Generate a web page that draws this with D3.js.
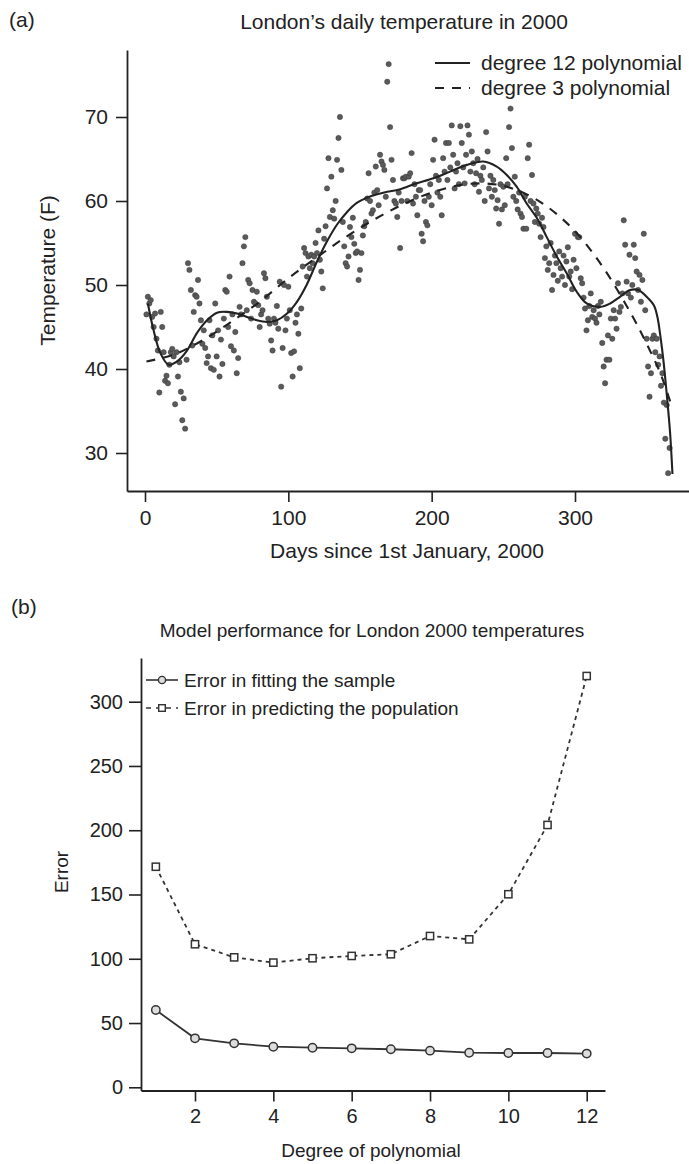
<!DOCTYPE html>
<html><head><meta charset="utf-8">
<script src="https://cdn.jsdelivr.net/npm/d3@7/dist/d3.min.js"></script>
<style>
html,body{margin:0;padding:0;background:#fff;}
svg{display:block;font-family:"Liberation Sans",Arial,Helvetica,sans-serif;}
</style></head><body>
<svg id="chart" width="689" height="1164"></svg>
<script>
// ---------- Panel (a) data ----------
const dayNumbers = d3.range(1, 367);
const temps = [
46.5,48.6,47.8,48.2,46.2,45.0,46.6,43.6,42.2,37.2,
46.8,45.0,42.0,38.6,39.2,38.3,40.5,42.0,42.4,41.5,
35.8,42.0,39.1,40.8,37.3,33.9,36.5,32.9,41.1,52.6,
51.8,49.4,42.8,46.8,48.8,48.6,50.6,47.8,45.8,43.0,
44.6,42.5,40.7,41.5,45.8,40.1,44.0,39.9,47.8,41.5,
44.6,39.1,43.5,40.6,46.0,49.4,49.2,45.0,51.0,42.7,
46.5,42.2,44.4,39.5,41.3,47.4,46.5,52.6,54.6,55.7,
47.0,50.6,50.2,46.0,49.4,48.0,47.8,49.2,47.6,45.0,
46.5,47.0,51.4,50.8,48.6,46.0,45.4,43.4,42.2,46.0,
45.5,47.5,44.8,50.4,37.9,42.5,50.0,44.6,46.0,49.8,
47.0,41.9,39.1,42.1,45.5,46.5,44.2,40.1,47.2,52.2,
54.4,53.8,51.0,53.4,52.0,53.6,52.6,53.4,55.0,53.8,
56.5,53.0,51.6,49.6,55.5,57.0,61.5,65.1,58.1,62.9,
58.9,57.9,60.0,64.9,67.5,70.0,63.7,57.5,54.6,52.6,
52.2,53.4,56.9,55.7,58.0,54.9,53.8,54.0,50.6,51.8,
53.8,55.9,57.0,57.5,60.3,63.3,60.0,58.5,58.9,61.0,
64.1,61.3,59.5,65.5,64.7,64.3,63.7,60.5,74.2,76.3,
68.8,64.9,62.5,60.0,59.7,58.1,61.0,54.4,60.0,62.7,
62.7,62.9,60.0,62.9,63.3,65.7,59.7,62.0,60.5,58.3,
61.3,61.3,56.1,55.2,60.0,57.5,57.1,60.5,62.0,59.5,
64.9,67.3,63.0,61.0,62.5,60.5,58.3,65.1,63.5,66.9,
62.5,66.9,64.0,69.0,65.5,61.5,63.5,64.5,62.0,68.9,
66.9,64.0,62.1,65.5,69.0,67.9,63.5,65.9,64.5,62.0,
63.3,65.0,61.1,63.0,62.5,64.0,60.0,68.2,65.9,61.5,
63.0,60.5,62.5,61.3,59.1,60.1,57.3,62.0,59.0,61.7,
59.5,65.1,62.0,68.8,71.0,66.3,60.5,62.9,60.0,59.0,
61.0,58.5,58.1,56.7,60.5,56.7,65.1,66.7,60.0,63.1,
59.7,57.5,59.1,58.5,57.3,55.7,58.0,56.9,53.2,54.6,
51.8,52.6,55.0,49.4,51.2,53.5,52.6,50.5,54.0,52.0,
51.0,53.5,50.0,52.8,54.5,51.0,51.6,49.5,53.0,56.1,
52.0,55.7,55.7,50.8,50.2,48.5,47.2,44.6,45.8,47.5,
49.0,46.2,47.0,46.0,45.5,47.5,46.5,48.0,43.1,40.3,
38.3,41.1,44.0,41.1,46.0,43.6,47.0,46.0,44.8,50.2,
46.8,47.4,49.0,57.7,54.8,50.4,49.0,53.6,48.5,50.0,
54.8,53.2,51.6,49.4,51.2,48.0,50.6,56.1,47.0,43.6,
40.3,36.7,39.5,43.6,44.0,42.0,43.6,40.5,41.5,38.0,
39.5,36.0,31.7,35.7,27.6,30.6
];
const deg12Days  = [2,6,10.7,16.5,22.3,29.3,36.3,43.3,50.2,57.2,64.2,71.2,78.1,85.1,92.1,99.1,106,113,120,127,134,141,148,155,162,169,176,183,189.6,201.2,212.8,224.5,236.1,245.4,252.4,259.3,266.3,273.3,280.3,287.3,294.2,301.2,308.2,317.5,324.5,331.4,338.4,344.2,350,355,357.5,359.5,361.7,364,366.3,368];
const deg12Temps = [47.8,44.6,41.9,40.5,40.9,42.2,44.3,45.8,46.7,46.8,46.6,46.2,45.8,45.6,45.8,46.6,48.0,50.1,52.8,55.2,57.2,58.7,59.8,60.4,60.8,61.1,61.3,61.7,62.1,62.7,63.5,64.3,64.7,64.1,63.1,61.7,59.7,58.0,55.7,53.4,51.4,49.2,47.8,47.4,47.8,48.6,49.4,49.4,48.6,47.6,46.2,44.0,41.0,37.0,32.5,27.5];
const deg3Days   = [1,20,40,60,80,100,120,140,160,180,200,220,235,250,265,280,300,320,340,350,360,367];
const deg3Temps  = [40.9,41.7,43.4,45.6,48.0,50.8,53.3,55.7,57.8,59.6,61.0,61.9,62.1,61.8,60.9,59.4,56.4,52.0,46.3,43.0,39.3,35.8];
const tempTicks  = [30,40,50,60,70];
const dayTicks   = [0,100,200,300];
const legendA    = ["degree 12 polynomial","degree 3 polynomial"];

// ---------- Panel (b) data ----------
const degrees     = [1,2,3,4,5,6,7,8,9,10,11,12];
const sampleError = [60.1,38.1,34.2,31.6,30.8,30.3,29.6,28.5,26.9,26.7,26.7,26.2];
const popError    = [171.6,111.3,101.1,97.0,100.4,102.2,103.5,117.7,115.1,150.2,204.1,320.0];
const errorTicks  = [0,50,100,150,200,250,300];
const degreeTicks = [2,4,6,8,10,12];
const legendB     = ["Error in fitting the sample","Error in predicting the population"];

const INK = "#222";
const svg = d3.select("#chart");

function styleAxis(g, fs){
  g.attr("font-size", fs).attr("font-family", null);
  g.selectAll("path.domain").attr("stroke", INK).attr("stroke-width", 1.8);
  g.selectAll(".tick line").attr("stroke", INK).attr("stroke-width", 1.6);
  g.selectAll(".tick text").attr("fill", INK);
}

// ================= Panel (a) =================
const A = {left:127, right:689, top:50, bottom:491};
const xT0 = d3.scaleLinear().domain([0,300]).range([145,575]);
const yT0 = d3.scaleLinear().domain([30,70]).range([453,117]);
const xT = d3.scaleLinear().domain([xT0.invert(A.left), xT0.invert(A.right)]).range([A.left, A.right]);
const yT = d3.scaleLinear().domain([yT0.invert(A.bottom), yT0.invert(A.top)]).range([A.bottom, A.top]);
const fsA = 21;

svg.append("text").attr("x",9).attr("y",27).attr("font-size",fsA).attr("fill",INK).text("(a)");
svg.append("text").attr("x",404).attr("y",29).attr("text-anchor","middle").attr("font-size",fsA).attr("fill",INK)
  .text("London\u2019s daily temperature in 2000");

// points
svg.append("g").selectAll("circle").data(temps).join("circle")
  .attr("cx",(d,i)=>xT(dayNumbers[i])).attr("cy",d=>yT(d)).attr("r",2.7)
  .attr("fill","#5a5a5a").attr("stroke","#333").attr("stroke-width",0.4);

const lineA = d3.line().x(d=>xT(d[0])).y(d=>yT(d[1])).curve(d3.curveCatmullRom.alpha(0.5));
svg.append("path").datum(deg12Days.map((d,i)=>[d,deg12Temps[i]])).attr("d",lineA)
  .attr("fill","none").attr("stroke",INK).attr("stroke-width",2.1);
svg.append("path").datum(deg3Days.map((d,i)=>[d,deg3Temps[i]])).attr("d",lineA)
  .attr("fill","none").attr("stroke",INK).attr("stroke-width",2.1).attr("stroke-dasharray","9,8");

// axes
const gyA = svg.append("g").attr("transform",`translate(${A.left},0)`)
  .call(d3.axisLeft(yT).tickValues(tempTicks).tickSize(11).tickSizeOuter(0).tickPadding(8));
styleAxis(gyA, fsA);
const gxA = svg.append("g").attr("transform",`translate(0,${A.bottom})`)
  .call(d3.axisBottom(xT).tickValues(dayTicks).tickSize(11).tickSizeOuter(0).tickPadding(8));
styleAxis(gxA, fsA);

svg.append("text").attr("x",407).attr("y",558).attr("text-anchor","middle").attr("font-size",fsA).attr("fill",INK)
  .text("Days since 1st January, 2000");
svg.append("text").attr("transform",`translate(55,${(A.top+A.bottom)/2}) rotate(-90)`).attr("text-anchor","middle")
  .attr("font-size",fsA).attr("fill",INK).text("Temperature (F)");

// legend (a)
const legA = svg.append("g");
[0,1].forEach(i=>{
  const y = 63 + i*25;
  legA.append("line").attr("x1",435).attr("x2",470).attr("y1",y).attr("y2",y)
    .attr("stroke",INK).attr("stroke-width",2.1).attr("stroke-dasharray", i? "9,8" : null);
  legA.append("text").attr("x",481).attr("y",y).attr("dy","0.35em").attr("font-size",fsA).attr("fill",INK).text(legendA[i]);
});

// ================= Panel (b) =================
const B = {left:141, right:605, top:658, bottom:1090.5};
const xB0 = d3.scaleLinear().domain([2,12]).range([195,586.7]);
const yB0 = d3.scaleLinear().domain([0,300]).range([1087.3,701.7]);
const xB = d3.scaleLinear().domain([xB0.invert(B.left), xB0.invert(B.right)]).range([B.left,B.right]);
const yB = d3.scaleLinear().domain([yB0.invert(B.bottom), yB0.invert(B.top)]).range([B.bottom,B.top]);
const fsB = 19;

svg.append("text").attr("x",11).attr("y",614).attr("font-size",fsA).attr("fill",INK).text("(b)");
svg.append("text").attr("x",372).attr("y",637).attr("text-anchor","middle").attr("font-size",fsB).attr("fill",INK)
  .text("Model performance for London 2000 temperatures");

const lineB = d3.line().x((d,i)=>xB(degrees[i])).y(d=>yB(d));
svg.append("path").datum(popError).attr("d",lineB).attr("fill","none").attr("stroke","#333")
  .attr("stroke-width",1.8).attr("stroke-dasharray","4,4");
svg.append("path").datum(sampleError).attr("d",lineB).attr("fill","none").attr("stroke","#333")
  .attr("stroke-width",1.8);
svg.append("g").selectAll("rect").data(popError).join("rect")
  .attr("x",(d,i)=>xB(degrees[i])-3.6).attr("y",d=>yB(d)-3.6).attr("width",7.2).attr("height",7.2)
  .attr("fill","#fff").attr("stroke","#333").attr("stroke-width",1.5);
svg.append("g").selectAll("circle").data(sampleError).join("circle")
  .attr("cx",(d,i)=>xB(degrees[i])).attr("cy",d=>yB(d)).attr("r",4.2)
  .attr("fill","#ddd").attr("stroke","#333").attr("stroke-width",1.5);

const gyB = svg.append("g").attr("transform",`translate(${B.left},0)`)
  .call(d3.axisLeft(yB).tickValues(errorTicks).tickSize(12).tickSizeOuter(0).tickPadding(6));
styleAxis(gyB, 20);
const gxB = svg.append("g").attr("transform",`translate(0,${B.bottom})`)
  .call(d3.axisBottom(xB).tickValues(degreeTicks).tickSize(11).tickSizeOuter(0).tickPadding(7));
styleAxis(gxB, 20);

svg.append("text").attr("x",371).attr("y",1157).attr("text-anchor","middle").attr("font-size",fsB).attr("fill",INK)
  .text("Degree of polynomial");
svg.append("text").attr("transform",`translate(68,872) rotate(-90)`).attr("text-anchor","middle")
  .attr("font-size",fsB).attr("fill",INK).text("Error");

// legend (b)
const legB = svg.append("g");
[0,1].forEach(i=>{
  const y = 680 + i*28;
  legB.append("line").attr("x1",146).attr("x2",178).attr("y1",y).attr("y2",y)
    .attr("stroke","#333").attr("stroke-width",1.6).attr("stroke-dasharray", i? "5,5" : null);
  if(i===0){
    legB.append("circle").attr("cx",162).attr("cy",y).attr("r",3.6).attr("fill","#ddd").attr("stroke","#333").attr("stroke-width",1.4);
  } else {
    legB.append("rect").attr("x",158.7).attr("y",y-3.3).attr("width",6.6).attr("height",6.6).attr("fill","#fff").attr("stroke","#333").attr("stroke-width",1.4);
  }
  legB.append("text").attr("x",184).attr("y",y).attr("dy","0.35em").attr("font-size",fsB).attr("fill",INK).text(legendB[i]);
});
</script>
</body></html>
